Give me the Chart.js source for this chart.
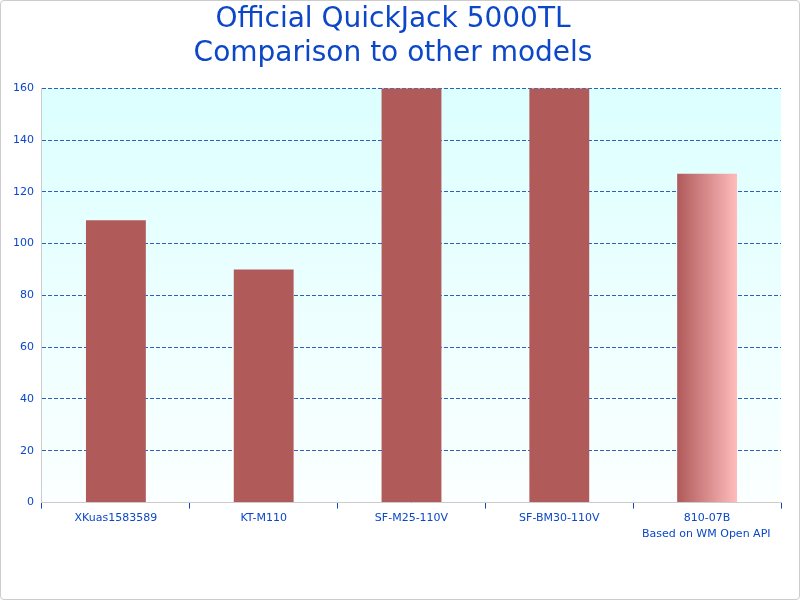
<!DOCTYPE html>
<html>
<head>
<meta charset="utf-8">
<script src="https://cdn.jsdelivr.net/npm/chart.js@4"></script>
<style>
  body { margin: 0; background: #fff; }
  #wrap { width: 798px; height: 598px; border: 1px solid #ccc; border-radius: 4px; }
</style>
</head>
<body>
<div id="wrap"><canvas id="chart" width="798" height="598"></canvas></div>
<script>
// data
const models = ['XKuas1583589', 'KT-M110', 'SF-M25-110V', 'SF-BM30-110V', '810-07B'];
const values = [109, 90, 160, 160, 127];
const yTicks = [0, 20, 40, 60, 80, 100, 120, 140, 160];

const blue = '#0b47c8';

// light cyan background behind the plot area
const plotBg = {
  id: 'plotBg',
  beforeDraw(chart) {
    const { ctx, chartArea: a } = chart;
    const g = ctx.createLinearGradient(0, a.top, 0, a.bottom);
    g.addColorStop(0, '#dcffff');
    g.addColorStop(1, '#fbffff');
    ctx.save();
    ctx.fillStyle = g;
    ctx.fillRect(a.left, a.top, a.right - a.left, a.bottom - a.top);
    ctx.restore();
  }
};

// horizontal dark-to-light gradient on every bar
const barGradient = {
  id: 'barGradient',
  beforeDatasetsDraw(chart) {
    const ctx = chart.ctx;
    chart.getDatasetMeta(0).data.forEach(el => {
      const x0 = el.x - el.width / 2;
      const g = ctx.createLinearGradient(x0, 0, x0 + el.width, 0);
      g.addColorStop(0, '#b05a5a');
      g.addColorStop(1, '#ffbcbc');
      el.options.backgroundColor = g;
    });
  }
};

new Chart(document.getElementById('chart'), {
  type: 'bar',
  data: {
    labels: models,
    datasets: [{ data: values, backgroundColor: '#d08080', barPercentage: 0.405, categoryPercentage: 1 }]
  },
  options: {
    responsive: false,
    animation: false,
    layout: { padding: { left: 4, right: 18, bottom: 58 } },
    plugins: {
      legend: { display: false },
      tooltip: { enabled: false },
      title: {
        display: true,
        text: ['Official QuickJack 5000TL', 'Comparison to other models'],
        color: blue,
        font: { family: 'DejaVu Sans', size: 28, weight: 'normal' },
        padding: { top: 2, bottom: 18 },
        lineHeight: 1.05
      },
      subtitle: {
        display: true,
        position: 'bottom',
        align: 'end',
        text: 'Based on WM Open API   ',
        color: blue,
        font: { family: 'DejaVu Sans', size: 11 },
        padding: { top: 0 }
      }
    },
    scales: {
      y: {
        min: 0, max: 160,
        afterBuildTicks: s => { s.ticks = yTicks.map(v => ({ value: v })); },
        ticks: { color: blue, font: { family: 'DejaVu Sans', size: 11 }, padding: 8 },
        grid: { color: '#2e5fc0', drawTicks: false, lineWidth: 1 },
        border: { display: true, color: '#ccc', dash: [4, 2] }
      },
      x: {
        ticks: { color: blue, font: { family: 'DejaVu Sans', size: 11 }, padding: 3 },
        grid: { offset: true, drawOnChartArea: false, color: blue, tickLength: 6 },
        border: { color: '#ccc' }
      }
    }
  },
  plugins: [plotBg, barGradient]
});
</script>
</body>
</html>
